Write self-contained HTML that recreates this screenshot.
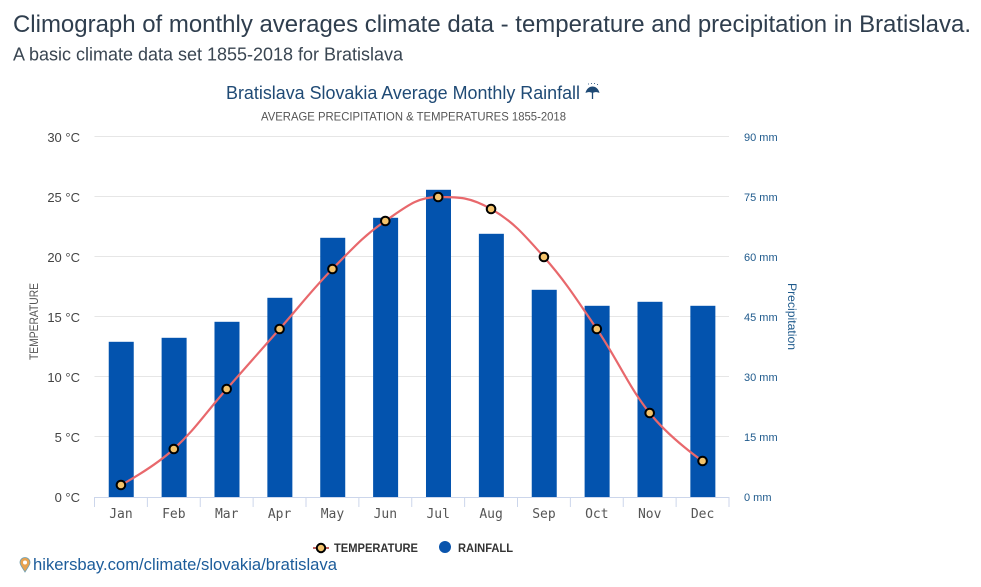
<!DOCTYPE html>
<html lang="en">
<head>
<meta charset="utf-8">
<title>Climograph Bratislava</title>
<style>
html,body{margin:0;padding:0;background:#fff;width:981px;height:587px;overflow:hidden}
svg{display:block;position:absolute;left:0;top:0}
text{font-family:"Liberation Sans",sans-serif}
</style>
</head>
<body>
<svg id="chart" width="981" height="587" viewBox="0 0 981 587" xmlns="http://www.w3.org/2000/svg">
  <text x="13" y="32" font-size="24" fill="#2f3e4e" textLength="958" lengthAdjust="spacingAndGlyphs">Climograph of monthly averages climate data - temperature and precipitation in Bratislava.</text>
  <text x="13" y="60.5" font-size="18" fill="#3a4652" textLength="390" lengthAdjust="spacingAndGlyphs">A basic climate data set 1855-2018 for Bratislava</text>
  <text x="226" y="99" font-size="18" fill="#1f4a75" textLength="354" lengthAdjust="spacingAndGlyphs">Bratislava Slovakia Average Monthly Rainfall</text>
  <g>
    <path d="M585.5 93 C586.5 88.5 589.5 86.5 592.5 86.5 C595.5 86.5 598.5 88.5 599.5 93 C597 91.8 595 91.8 592.5 93 C590 91.8 588 91.8 585.5 93 Z" fill="#1f4a75"></path>
    <path d="M592.5 92 V99" stroke="#1f4a75" stroke-width="1.3" fill="none"></path>
    <path d="M588 84 h.8 M591 83.5 h.8 M594 83.5 h.8 M597 84.5 h.8" stroke="#1f4a75" stroke-width="1" fill="none"></path>
  </g>
  <text x="261" y="120.5" font-size="11.8" fill="#555" textLength="305" lengthAdjust="spacingAndGlyphs">AVERAGE PRECIPITATION &amp; TEMPERATURES 1855-2018</text>
  <g id="grid"></g>
  <g id="bars"></g>
  <g id="axes"></g>
  <path id="temp-line" fill="none" stroke="#e8686c" stroke-width="2.2"></path>
  <g id="points"></g>
  <text transform="translate(38,360) rotate(-90)" font-size="11.5" fill="#555" textLength="77" lengthAdjust="spacingAndGlyphs">TEMPERATURE</text>
  <text transform="translate(788,283) rotate(90)" font-size="12" fill="#1f5a8c" textLength="67" lengthAdjust="spacingAndGlyphs">Precipitation</text>
  <g>
    <line x1="313" x2="329" y1="548" y2="548" stroke="#c0605f" stroke-width="2"></line>
    <circle cx="321" cy="548" r="4.2" fill="#f3c36b" stroke="#000" stroke-width="2"></circle>
    <text x="334" y="552" font-size="12" font-weight="bold" fill="#333" textLength="84" lengthAdjust="spacingAndGlyphs">TEMPERATURE</text>
  </g>
  <g>
    <circle cx="445" cy="547" r="6" fill="#0a55ad"></circle>
    <text x="458" y="552" font-size="12" font-weight="bold" fill="#333" textLength="55" lengthAdjust="spacingAndGlyphs">RAINFALL</text>
  </g>
  <g>
    <path d="M25 572 C22 567 20 565 20 562.5 A5 5 0 0 1 30 562.5 C30 565 28 567 25 572 Z" fill="#e8a24f" stroke="#6f9fb0" stroke-width="0.8"></path>
    <circle cx="25" cy="562.5" r="2" fill="#fff"></circle>
  </g>
  <text x="33" y="570" font-size="17" fill="#1c5c9a" textLength="304" lengthAdjust="spacingAndGlyphs">hikersbay.com/climate/slovakia/bratislava</text>
</svg>
<script>
var categories = ["Jan","Feb","Mar","Apr","May","Jun","Jul","Aug","Sep","Oct","Nov","Dec"];
var rainfallMm = [38.8,39.8,43.8,49.8,64.8,69.8,76.8,65.8,51.8,47.8,48.8,47.8];
var temperatureC = [1,4,9,14,19,23,25,24,20,14,7,3];
var tempTicks = [0,5,10,15,20,25,30];
var rainTicks = [0,15,30,45,60,75,90];

var NS = "http://www.w3.org/2000/svg";
var plotL = 94.5, plotR = 729, plotT = 137, plotB = 497;
var tempMax = 30, rainMax = 90;
function xBand(i){ return plotL + (plotR - plotL) * (i + 0.5) / categories.length; }
function yTemp(v){ return plotB - (plotB - plotT) * v / tempMax; }
function yRain(v){ return plotB - (plotB - plotT) * v / rainMax; }
function make(tag, parent, attrs, txt){
  var el = document.createElementNS(NS, tag);
  for (var k in attrs) el.setAttribute(k, attrs[k]);
  if (txt !== undefined) el.textContent = txt;
  parent.appendChild(el);
  return el;
}
var grid = document.getElementById("grid");
var bars = document.getElementById("bars");
var axes = document.getElementById("axes");
var pts = document.getElementById("points");

tempTicks.forEach(function(t){
  var y = yTemp(t);
  if (t > 0) {
    var gl = make("line", grid, {x1: plotL, x2: plotR, y1: y - 0.5, y2: y - 0.5, stroke: "#e6e6e6", "stroke-width": 1});
    
    
  }
  var lbl = make("text", axes, {x: 80, y: y + 5, "text-anchor": "end", "font-size": 13, fill: "#444"}, t + " \u00B0C");
  
  
});
rainTicks.forEach(function(t){
  var r = make("text", axes, {x: 744, y: yRain(t) + 4, "font-size": 11, fill: "#1f5a8c"}, t + " mm");
  
  
});
rainfallMm.forEach(function(v, i){
  var b = make("rect", bars, {x: xBand(i) - 12.2, y: yRain(v), width: 25, height: plotB - yRain(v), fill: "#0353ae"});
  
  
});
var baseLine = make("line", axes, {x1: plotL, x2: plotR, y1: plotB + 0.5, y2: plotB + 0.5, stroke: "#ccd6eb", "stroke-width": 1});


for (var ti = 0; ti <= categories.length; ti++) {
  var tx = plotL + (plotR - plotL) * ti / categories.length;
  var tk = make("line", axes, {x1: tx, x2: tx, y1: plotB, y2: plotB + 10, stroke: "#ccd6eb", "stroke-width": 1});
  
  
}
categories.forEach(function(c, i){
  var xl = make("text", axes, {x: xBand(i), y: 518, "text-anchor": "middle", "font-size": 13, fill: "#555", style: "font-family:'DejaVu Sans Mono',monospace"}, c);
  
  
});

/* Smooth curve through the points with flattened extrema */
var sm = 1.5;
function controls(i){
  var x = xBand(i), y = yTemp(temperatureC[i]);
  var hasL = i > 0, hasR = i < temperatureC.length - 1;
  if (!hasL || !hasR) return {lx: x, ly: y, rx: x, ry: y};
  var px = xBand(i - 1), py = yTemp(temperatureC[i - 1]);
  var nx = xBand(i + 1), ny = yTemp(temperatureC[i + 1]);
  var lx = (sm * x + px) / (sm + 1), ly = (sm * y + py) / (sm + 1);
  var rx = (sm * x + nx) / (sm + 1), ry = (sm * y + ny) / (sm + 1);
  var corr = (ry - ly) * (rx - x) / (rx - lx) + y - ry;
  ly += corr; ry += corr;
  if (ly > py && ly > y) { ly = Math.max(py, y); ry = 2 * y - ly; }
  else if (ly < py && ly < y) { ly = Math.min(py, y); ry = 2 * y - ly; }
  if (ry > ny && ry > y) { ry = Math.max(ny, y); ly = 2 * y - ry; }
  else if (ry < ny && ry < y) { ry = Math.min(ny, y); ly = 2 * y - ry; }
  return {lx: lx, ly: ly, rx: rx, ry: ry};
}
var d = "M" + xBand(0) + " " + yTemp(temperatureC[0]);
for (var i = 1; i < temperatureC.length; i++) {
  var a = controls(i - 1), b2 = controls(i);
  d += " C" + a.rx + " " + a.ry + " " + b2.lx + " " + b2.ly + " " + xBand(i) + " " + yTemp(temperatureC[i]);
}
document.getElementById("temp-line").setAttribute("d", d);

temperatureC.forEach(function(v, i){
  var p = make("circle", pts, {cx: xBand(i), cy: yTemp(v), r: 4.3, fill: "#f3c36b", stroke: "#000", "stroke-width": 2});
  
  
});
</script>
</body>
</html>
